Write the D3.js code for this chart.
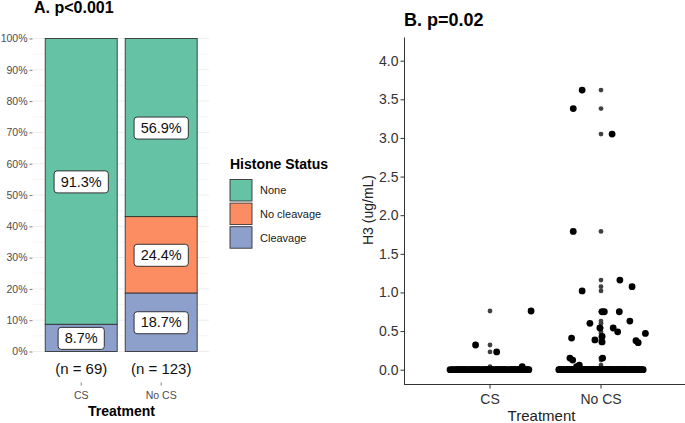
<!DOCTYPE html>
<html>
<head>
<meta charset="utf-8">
<script src="https://cdn.jsdelivr.net/npm/d3@7"></script>
<style>
  html, body { margin: 0; padding: 0; background: #fff; }
  svg { display: block; font-family: "Liberation Sans", Arial, sans-serif; }
</style>
</head>
<body>
<svg id="chart" width="685" height="423"></svg>
<script>
// ---------------- DATA ----------------
// Panel A: stacked proportions
const groupsA = ["CS", "No CS"];
const groupN = [69, 123];
const statuses = ["Cleavage", "No cleavage", "None"];            // stacking order (bottom -> top)
const legendOrder = ["None", "No cleavage", "Cleavage"];
const pctCleavage = [8.7, 18.7];
const pctNoCleavage = [0.0, 24.4];
const pctNone = [91.3, 56.9];
const yTicksA = [0, 10, 20, 30, 40, 50, 60, 70, 80, 90, 100];

// Panel B: H3 values (ug/mL) per treatment, with jitter offsets
const groupsB = ["CS", "No CS"];
const csNonZero = [0.32, 0.23, 0.76, 0.04];
const csNonZeroJitter = [-0.13, 0.06, 0.37, 0.29];
const csZeroJitter = [-0.36,-0.33,-0.31,-0.30,-0.28,-0.27,-0.25,-0.24,-0.22,-0.21,-0.19,-0.18,-0.16,-0.15,-0.13,-0.12,-0.10,-0.09,-0.07,-0.06,-0.04,-0.03,-0.01,0.00,0.02,0.03,0.05,0.06,0.08,0.09,0.11,0.12,0.14,0.15,0.17,0.18,0.20,0.21,0.23,0.24,0.26,0.27,0.29,0.30,0.32,0.33,0.35,-0.34,-0.29,-0.23,-0.17,-0.11,-0.05,0.01,0.07,0.13,0.19,0.25,0.31,-0.26,-0.14,-0.02,0.10,0.22,0.34];
const noCsNonZero = [3.62, 3.38, 3.05, 1.79, 1.16, 1.075, 1.02, 0.75, 0.75, 0.75, 0.63, 0.60, 0.54, 0.54, 0.49, 0.47, 0.43, 0.41, 0.385, 0.36, 0.375, 0.35, 0.15, 0.125, 0.15, 0.06, 0.04];
const noCsNonZeroJitter = [-0.17, -0.25, 0.10, -0.25, 0.17, 0.28, -0.17, 0.01, 0.03, 0.165, 0.26, -0.10, -0.01, 0.11, 0.15, 0.40, 0.01, -0.265, -0.055, 0.01, 0.315, 0.335, -0.28, -0.255, 0.015, -0.195, -0.22];
const noCsZeroJitter = [-0.38,-0.36,-0.35,-0.33,-0.32,-0.30,-0.29,-0.27,-0.25,-0.24,-0.22,-0.21,-0.19,-0.17,-0.16,-0.14,-0.13,-0.11,-0.10,-0.08,-0.06,-0.05,-0.03,-0.02,0.00,0.01,0.03,0.05,0.06,0.08,0.09,0.11,0.12,0.14,0.16,0.17,0.19,0.20,0.22,0.24,0.25,0.27,0.28,0.30,0.31,0.33,0.35,0.38,
  -0.37,-0.34,-0.31,-0.28,-0.26,-0.23,-0.20,-0.18,-0.15,-0.12,-0.09,-0.07,-0.04,-0.01,0.02,0.04,0.07,0.10,0.13,0.15,0.18,0.21,0.23,0.26,0.29,0.32,0.34,0.36,0.37,-0.37,-0.33,-0.27,-0.21,-0.15,-0.09,-0.03,0.03,0.09,0.15,0.21,0.27,0.33,-0.30,-0.18,-0.06,0.06,0.18,0.30];
const yTicksB = [0, 0.5, 1.0, 1.5, 2.0, 2.5, 3.0, 3.5, 4.0];

// ---------------- STYLE ----------------
const colors = { "None": "#66C2A5", "No cleavage": "#FC8D62", "Cleavage": "#8DA0CB" };
const svg = d3.select("#chart");

// ================= PANEL A =================
const rowsA = groupsA.map((g, i) => ({
  group: g, n: groupN[i],
  "Cleavage": pctCleavage[i], "No cleavage": pctNoCleavage[i], "None": pctNone[i]
}));
const xA = d3.scaleBand().domain(groupsA).range([33.3, 209.1]).paddingInner(0.1).paddingOuter(0.149);
const yA = d3.scaleLinear().domain([0, 100]).range([351.5, 38.5]);
const gA = svg.append("g");

// grid (major + minor)
gA.selectAll("line.grid").data(d3.range(0, 101, 5)).join("line")
  .attr("x1", 33).attr("x2", 209)
  .attr("y1", d => yA(d)).attr("y2", d => yA(d))
  .attr("stroke", d => d % 10 === 0 ? "#ebebeb" : "#f4f4f4").attr("stroke-width", 0.9);

// y axis
const axA = gA.append("g").attr("transform", "translate(32.5,0)")
  .call(d3.axisLeft(yA).tickValues(yTicksA).tickFormat(d => d + "%").tickSize(3).tickPadding(2));
axA.select(".domain").remove();
axA.selectAll(".tick line").attr("stroke", "#7f7f7f");
axA.selectAll(".tick text").attr("fill", "#4d4d4d").style("font-size", "10.5px")
  .style("font-family", "'Liberation Sans', Arial, sans-serif");

// stacked bars
const stack = d3.stack().keys(statuses)(rowsA);
gA.selectAll("g.layer").data(stack).join("g")
  .attr("fill", d => colors[d.key])
  .selectAll("rect").data(d => d).join("rect")
  .attr("x", d => xA(d.data.group))
  .attr("width", xA.bandwidth())
  .attr("y", d => yA(d[1]))
  .attr("height", d => yA(d[0]) - yA(d[1]))
  .attr("stroke", "#333").attr("stroke-width", 0.9);

// labels with boxes
const labelData = [];
stack.forEach(layer => layer.forEach(d => {
  const v = d[1] - d[0];
  if (v > 0) labelData.push({ group: d.data.group, v, mid: (d[0] + d[1]) / 2 });
}));
const lab = gA.selectAll("g.lab").data(labelData).join("g")
  .attr("transform", d => `translate(${xA(d.group) + xA.bandwidth() / 2},${yA(d.mid)})`);
lab.append("text").text(d => d.v.toFixed(1) + "%")
  .attr("text-anchor", "middle").attr("dy", "0.36em")
  .style("font-size", "14.5px").attr("fill", "#111");
lab.each(function () {
  const g = d3.select(this);
  const bb = g.select("text").node().getBBox();
  const w = bb.width + 13, h = 22;
  g.insert("rect", "text").attr("x", -w / 2).attr("y", -h / 2 + 0.5).attr("width", w).attr("height", h)
    .attr("rx", 3).attr("fill", "#fff").attr("stroke", "#222").attr("stroke-width", 0.9);
});

// n labels
gA.selectAll("text.n").data(rowsA).join("text")
  .attr("x", d => xA(d.group) + xA.bandwidth() / 2).attr("y", 374)
  .attr("text-anchor", "middle").style("font-size", "15px").attr("fill", "#111")
  .text(d => `(n = ${d.n})`);

// x ticks + labels
gA.selectAll("line.xt").data(groupsA).join("line")
  .attr("x1", d => xA(d) + xA.bandwidth() / 2).attr("x2", d => xA(d) + xA.bandwidth() / 2)
  .attr("y1", 382.5).attr("y2", 385.5).attr("stroke", "#7f7f7f");
gA.selectAll("text.xl").data(groupsA).join("text")
  .attr("x", d => xA(d) + xA.bandwidth() / 2).attr("y", 399)
  .attr("text-anchor", "middle").style("font-size", "10.5px").attr("fill", "#4d4d4d").text(d => d);
gA.append("text").attr("x", 121.5).attr("y", 416).attr("text-anchor", "middle")
  .style("font-size", "14px").style("font-weight", "bold").attr("fill", "#000").text("Treatment");
gA.append("text").attr("x", 34).attr("y", 13).style("font-size", "16px").style("font-weight", "bold")
  .attr("fill", "#000").text("A. p<0.001");

// legend
const lg = svg.append("g").attr("transform", "translate(230,0)");
lg.append("text").attr("x", 0).attr("y", 169).style("font-size", "14px").style("font-weight", "bold")
  .attr("fill", "#000").text("Histone Status");
const li = lg.selectAll("g.li").data(legendOrder).join("g")
  .attr("transform", (d, i) => `translate(0,${179.5 + i * 23.6})`);
li.append("rect").attr("width", 22).attr("height", 21.5).attr("fill", d => colors[d])
  .attr("stroke", "#333").attr("stroke-width", 0.9);
li.append("text").attr("x", 30).attr("y", 11).attr("dy", "0.35em").style("font-size", "11px")
  .attr("fill", "#1a1a1a").text(d => d);

// ================= PANEL B =================
const pointsB = [];
csZeroJitter.forEach(j => pointsB.push({ g: 0, v: 0, j }));
csNonZero.forEach((v, i) => pointsB.push({ g: 0, v, j: csNonZeroJitter[i] }));
noCsZeroJitter.forEach(j => pointsB.push({ g: 1, v: 0, j }));
noCsNonZero.forEach((v, i) => pointsB.push({ g: 1, v, j: noCsNonZeroJitter[i] }));

const xB = d3.scaleLinear().domain([0, 1]).range([490, 601]);
const yB = d3.scaleLinear().domain([0, 4]).range([369.7, 60.7]);
const gB = svg.append("g");

// outliers (boxplot style) at category centre
const outliers = pointsB.filter(p => p.v > 0);
gB.selectAll("circle.out").data(outliers).join("circle")
  .attr("cx", d => xB(d.g)).attr("cy", d => yB(d.v)).attr("r", 2.4).attr("fill", "#404040");
// jittered points
gB.selectAll("circle.pt").data(pointsB).join("circle")
  .attr("cx", d => xB(d.g + d.j)).attr("cy", d => yB(d.v)).attr("r", 3.4).attr("fill", "#000");

// axes
const axYB = gB.append("g").attr("transform", "translate(404.5,0)")
  .call(d3.axisLeft(yB).tickValues(yTicksB).tickFormat(d3.format(".1f")).tickSize(4).tickPadding(2).tickSizeOuter(0));
axYB.select(".domain").attr("d", "M0,37.5V384.5").attr("stroke", "#333");
axYB.selectAll(".tick line").attr("stroke", "#333");
axYB.selectAll(".tick text").attr("fill", "#333").style("font-size", "14px")
  .style("font-family", "'Liberation Sans', Arial, sans-serif");

gB.append("line").attr("x1", 404).attr("x2", 685).attr("y1", 384.5).attr("y2", 384.5).attr("stroke", "#333");
gB.selectAll("line.xtb").data(groupsB).join("line")
  .attr("x1", (d, i) => xB(i)).attr("x2", (d, i) => xB(i)).attr("y1", 384.5).attr("y2", 388.5).attr("stroke", "#333");
gB.selectAll("text.xlb").data(groupsB).join("text")
  .attr("x", (d, i) => xB(i)).attr("y", 404).attr("text-anchor", "middle")
  .style("font-size", "14px").attr("fill", "#333").text(d => d);
gB.append("text").attr("x", 541.5).attr("y", 420.5).attr("text-anchor", "middle")
  .style("font-size", "15px").attr("fill", "#222").text("Treatment");
gB.append("text").attr("transform", "translate(373,210) rotate(-90)").attr("text-anchor", "middle")
  .style("font-size", "14px").attr("fill", "#222").text("H3 (ug/mL)");
gB.append("text").attr("x", 404).attr("y", 26).style("font-size", "18px").style("font-weight", "bold")
  .attr("fill", "#000").text("B. p=0.02");
</script>
</body>
</html>
